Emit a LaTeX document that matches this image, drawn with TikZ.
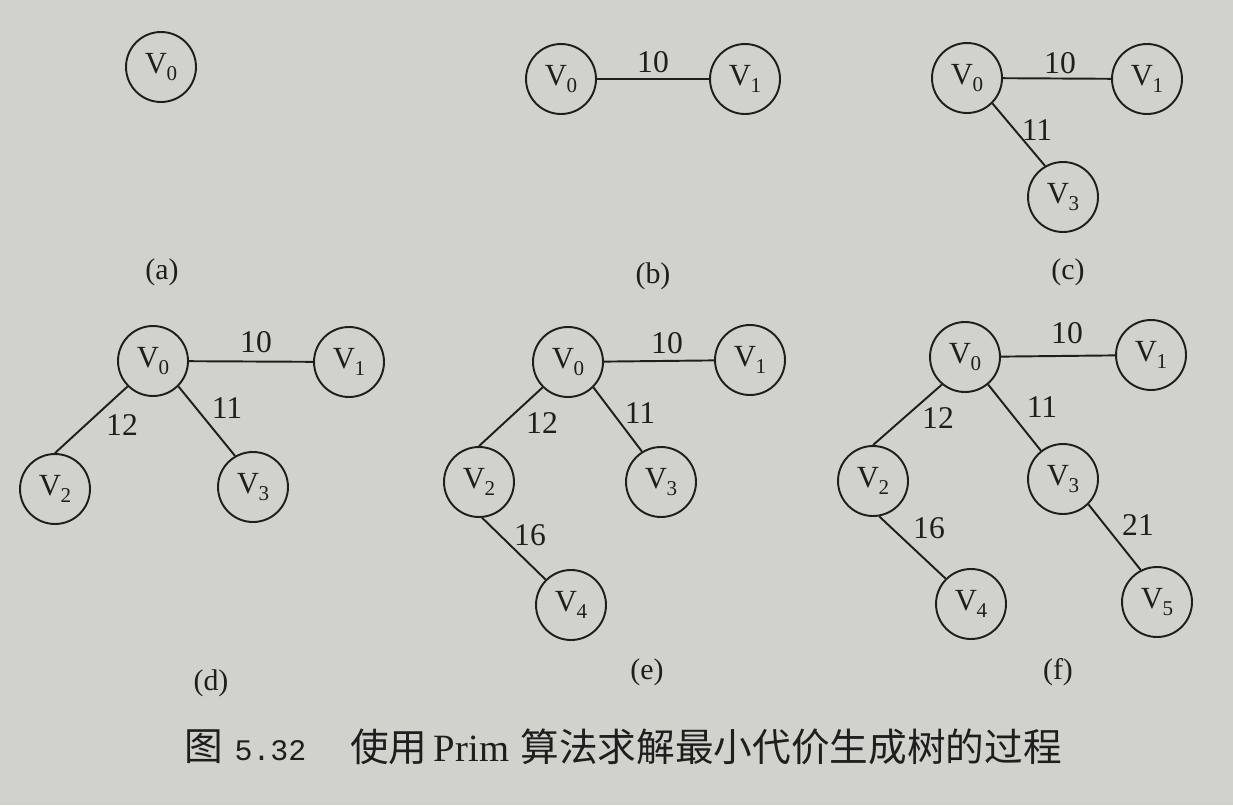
\documentclass[tikz,border=0pt]{standalone}
\usepackage{fontspec}
\setmainfont{Liberation Serif}
\newfontfamily\cjkfont{Noto Sans CJK SC}
\newfontfamily\numfont{Liberation Mono}
\usetikzlibrary{positioning}
\definecolor{paper}{RGB}{210,210,204}
\definecolor{ink}{RGB}{30,30,30}
\newcommand{\vx}[1]{V\kern-0.3pt\raisebox{-0.55ex}{\fontsize{12}{12}\selectfont #1}}
\tikzstyle{vertex} = [circle, draw=ink, line width=1.1pt, minimum size=1.4cm, inner sep=0pt, font=\fontsize{17.5}{17.5}\selectfont, text=ink]
\tikzstyle{weight} = [inner sep=1pt, font=\fontsize{18}{18}\selectfont, text=ink]
\tikzstyle{sublabel} = [font=\fontsize{17}{17}\selectfont, text=ink]
\tikzstyle{caption} = [inner sep=0pt, font=\fontsize{22}{22}\selectfont, text=ink]
\tikzstyle{edge} = [draw=ink, line width=1.1pt]

\begin{document}
\begin{tikzpicture}[x=0.02cm, y=-0.02cm]
 \fill[paper] (0,0) rectangle (1233,805);
 \useasboundingbox (0,0) rectangle (1233,805);

 % (a)
 \node (a0) [vertex] at (161,67) {\vx{0}};
 \node (la) [sublabel] at (162,272) {(a)};

 % (b)
 \node (b0) [vertex] at (561,79) {\vx{0}};
 \node (b1) [vertex] at (745,79) {\vx{1}};
 \draw[edge] (b0) -- (b1);
 \node (wb01) [weight] at (653,62) {10};
 \node (lb) [sublabel] at (653,276) {(b)};

 % (c)
 \node (c0) [vertex] at (967,78) {\vx{0}};
 \node (c1) [vertex] at (1147,79) {\vx{1}};
 \node (c3) [vertex] at (1063,197) {\vx{3}};
 \draw[edge] (c0) -- (c1);
 \draw[edge] (c0.south east) -- (c3.120);
 \node (wc01) [weight] at (1060,63) {10};
 \node (wc03) [weight] at (1037,130) {11};
 \node (lc) [sublabel] at (1068,272) {(c)};

 % (d)
 \node (d0) [vertex] at (153,361) {\vx{0}};
 \node (d1) [vertex] at (349,362) {\vx{1}};
 \node (d2) [vertex] at (55,489) {\vx{2}};
 \node (d3) [vertex] at (253,487) {\vx{3}};
 \draw[edge] (d0) -- (d1);
 \draw[edge] (d0.south west) -- (d2.north);
 \draw[edge] (d0.south east) -- (d3.120);
 \node (wd01) [weight] at (256,342) {10};
 \node (wd02) [weight] at (122,425) {12};
 \node (wd03) [weight] at (227,408) {11};
 \node (ld) [sublabel] at (211,683) {(d)};

 % (e)
 \node (e0) [vertex] at (568,362) {\vx{0}};
 \node (e1) [vertex] at (750,360) {\vx{1}};
 \node (e2) [vertex] at (479,482) {\vx{2}};
 \node (e3) [vertex] at (661,482) {\vx{3}};
 \node (e4) [vertex] at (571,605) {\vx{4}};
 \draw[edge] (e0) -- (e1);
 \draw[edge] (e0.south west) -- (e2.north);
 \draw[edge] (e0.south east) -- (e3.122);
 \draw[edge] (e2.-85) -- (e4.north west);
 \node (we01) [weight] at (667,343) {10};
 \node (we02) [weight] at (542,423) {12};
 \node (we03) [weight] at (640,413) {11};
 \node (we24) [weight] at (530,535) {16};
 \node (le) [sublabel] at (647,672) {(e)};

 % (f)
 \node (f0) [vertex] at (965,357) {\vx{0}};
 \node (f1) [vertex] at (1151,355) {\vx{1}};
 \node (f2) [vertex] at (873,481) {\vx{2}};
 \node (f3) [vertex] at (1063,479) {\vx{3}};
 \node (f4) [vertex] at (971,604) {\vx{4}};
 \node (f5) [vertex] at (1157,602) {\vx{5}};
 \draw[edge] (f0) -- (f1);
 \draw[edge] (f0.-130) -- (f2.north);
 \draw[edge] (f0.-50) -- (f3.128);
 \draw[edge] (f2.-80) -- (f4.north west);
 \draw[edge] (f3.south east) -- (f5.117);
 \node (wf01) [weight] at (1067,333) {10};
 \node (wf02) [weight] at (938,418) {12};
 \node (wf03) [weight] at (1042,407) {11};
 \node (wf24) [weight] at (929,528) {16};
 \node (wf35) [weight] at (1138,525) {21};
 \node (lf) [sublabel] at (1058,672) {(f)};

 % caption
 \node (captag) [caption, anchor=west] at (184,747) {{\cjkfont 图}\hspace{0.3em}{\numfont\fontsize{17}{17}\selectfont 5.32}};
 \node (captext) [caption] at (706,747) {{\cjkfont 使用}\,Prim\hspace{0.3em}{\cjkfont 算法求解最小代价生成树的过程}};
\end{tikzpicture}
\end{document}
